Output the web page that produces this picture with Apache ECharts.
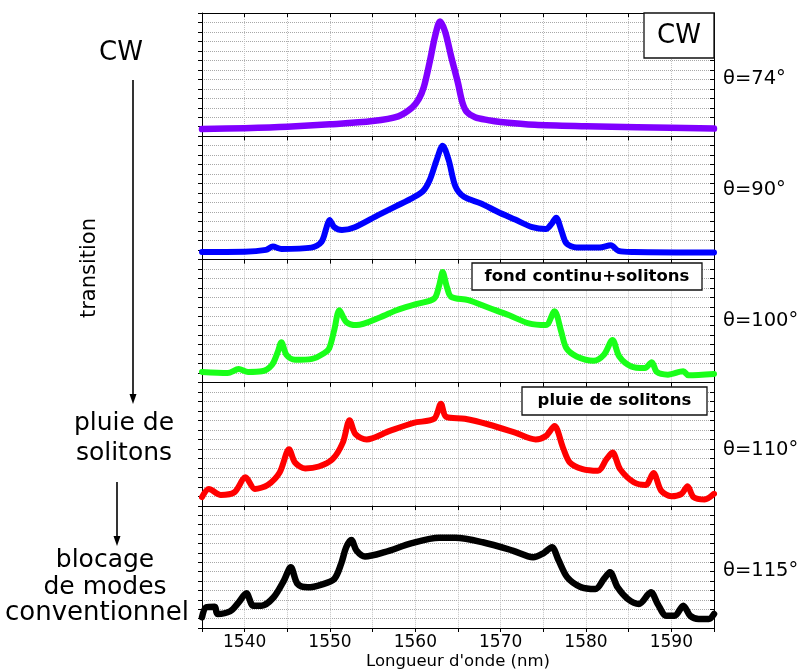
<!DOCTYPE html>
<html>
<head>
<meta charset="utf-8">
<script src="https://cdn.jsdelivr.net/npm/echarts@6/dist/echarts.min.js"></script>
<style>html,body{margin:0;padding:0;background:#fff}#c{width:799px;height:671px}</style>
</head>
<body>
<div id="c"></div>
<script>
// ---- Data (wavelength in nm, intensity in panel units 0..13) ----
const xTicks = [1540, 1550, 1560, 1570, 1580, 1590];
const angleLabels = ['θ=74°', 'θ=90°', 'θ=100°', 'θ=110°', 'θ=115°'];

const wl74 = [1535,1540,1545,1550,1555,1558,1559.6,1560.4,1561,1561.7,1562.3,1562.9,1563.5,1564.2,1565,1565.5,1566,1567,1568.5,1570,1574,1580,1586,1595];
const val74 = [0.75,0.85,1.0,1.25,1.6,2.1,3.0,3.9,5.2,7.9,10.5,12.1,11.0,8.4,5.6,3.6,2.6,2.0,1.7,1.5,1.2,1.05,0.95,0.8];

const wl90 = [1535,1540,1542.5,1543.3,1544.3,1547.8,1549,1549.6,1549.95,1550.5,1551.4,1552.9,1555.7,1557.7,1559.7,1560.9,1561.7,1562.5,1563.2,1563.9,1564.7,1565.7,1567.7,1569.7,1571.7,1573.7,1575.3,1576.0,1576.5,1577.1,1577.7,1578.9,1581.6,1582.9,1583.8,1585.6,1595];
const val90 = [0.78,0.8,1.0,1.35,1.1,1.24,1.85,3.4,4.15,3.4,3.1,3.4,4.7,5.6,6.5,7.2,8.4,10.5,12.0,10.5,7.7,6.6,5.9,5.0,4.2,3.4,3.2,3.8,4.4,3.1,1.7,1.25,1.25,1.5,0.9,0.78,0.72];

const wl100 = [1535,1538,1539.3,1540.4,1542,1543.2,1543.9,1544.3,1544.9,1545.9,1547.9,1549.3,1549.9,1550.5,1551.1,1551.9,1553.1,1555.9,1557.8,1560.2,1562.2,1562.8,1563.2,1563.7,1564.2,1566.2,1568.6,1571,1573.3,1575.3,1576.3,1577.1,1577.7,1578.9,1580.9,1582.1,1583.1,1583.9,1585.3,1586.9,1587.7,1588.3,1589.6,1591.4,1592,1595];
const val100 = [1.12,1.0,1.43,1.12,1.19,1.88,3.28,4.26,2.93,2.4,2.5,3.1,3.6,5.55,7.64,6.4,6.07,6.9,7.64,8.3,8.86,10.26,11.66,10.08,9.04,8.7,7.9,7.1,6.25,6.07,7.54,5.37,3.63,2.76,2.3,2.93,4.5,2.76,1.71,1.54,2.16,1.12,0.84,1.19,0.77,0.9];

const wl110 = [1535,1535.8,1537.2,1538.8,1540.1,1541.2,1542.7,1544.1,1545.2,1545.9,1547.1,1548.7,1550.3,1551.5,1552.3,1553,1554.3,1557,1559.8,1562.2,1563,1563.6,1565.8,1568.6,1571.7,1574.1,1575.3,1576.3,1577.3,1578.1,1579.6,1581.4,1582.4,1583.1,1584,1585.6,1587,1587.9,1588.8,1590,1591.2,1591.9,1592.6,1593.9,1595];
const val110 = [0.91,1.78,1.15,1.43,3.0,1.78,2.2,3.52,5.97,4.57,3.94,4.15,4.92,6.67,9.04,7.54,7.0,7.9,8.76,9.18,10.78,9.39,9.18,8.58,7.71,7.0,7.36,8.41,6.14,4.57,3.87,3.7,4.92,5.62,3.87,2.48,2.2,3.46,1.6,1.01,1.26,2.06,0.91,0.66,1.26];

const wl115 = [1535,1535.5,1536.5,1536.8,1538.3,1539.3,1540.2,1541,1542,1543.4,1544.6,1545.4,1546.2,1547.4,1549,1550.5,1551.3,1551.9,1552.5,1553.1,1554.1,1556.4,1559.6,1562.8,1564.7,1567.9,1571.4,1573.8,1575,1576,1576.8,1577.8,1579.3,1581.1,1582.1,1582.8,1583.7,1584.9,1586.2,1587.6,1588.4,1589.4,1590.4,1591.4,1592.2,1593.2,1594.4,1595];
const val115 = [1.14,2.2,2.27,1.49,1.78,2.73,3.69,2.38,2.38,3.27,5.04,6.46,4.69,4.33,4.62,5.22,6.82,8.59,9.37,8.24,7.6,8.06,9.02,9.59,9.59,9.12,8.24,7.53,7.95,8.59,7.17,5.4,4.4,4.15,5.22,5.93,4.33,3.09,2.56,3.8,2.56,1.31,1.31,2.38,1.31,0.96,0.96,1.49];

// ---- Layout ----
const FONT = '"DejaVu Sans", "Liberation Sans", Arial, sans-serif';
const panels = [
  {wl: wl74, v: val74, color: '#8000ff', w: 6.5},
  {wl: wl90, v: val90, color: '#0000ff', w: 6},
  {wl: wl100, v: val100, color: '#19ff19', w: 6},
  {wl: wl110, v: val110, color: '#ff0000', w: 6},
  {wl: wl115, v: val115, color: '#000000', w: 6.5}
];
const tops = [13, 136.2, 259.4, 382.6, 505.8];
const H = 123.2;
const labelY = [79, 190, 321, 450, 571];

const grid = [], xAxis = [], yAxis = [], series = [];
panels.forEach((p, i) => {
  grid.push({left: 202, width: 512, top: tops[i], height: H, containLabel: false});
  xAxis.push({
    gridIndex: i, type: 'value', min: 1535, max: 1595, interval: 5, position: 'bottom',
    axisLine: {show: true, onZero: false, lineStyle: {color: '#000', width: 1}},
    axisTick: {show: true, inside: false, length: 4, lineStyle: {color: '#000'}},
    axisLabel: {show: i === 4, margin: 6, fontFamily: FONT, fontSize: 17, color: '#000',
      formatter: v => xTicks.indexOf(v) >= 0 ? String(v) : ''},
    splitLine: {show: true, lineStyle: {color: '#c4c4c4', type: 'dotted', width: 1}},
    name: i === 4 ? "Longueur d'onde (nm)" : '', nameLocation: 'middle', nameGap: 25,
    nameTextStyle: {fontFamily: FONT, fontSize: 16.5, color: '#000'}
  });
  xAxis.push({
    gridIndex: i, type: 'value', min: 1535, max: 1595, interval: 5, position: 'top',
    axisLine: {show: true, onZero: false, lineStyle: {color: '#000', width: 1}},
    axisTick: {show: true, inside: true, length: 4, lineStyle: {color: '#000'}},
    axisLabel: {show: false}, splitLine: {show: false}
  });
  yAxis.push({
    gridIndex: i, type: 'value', min: 0, max: 13, interval: 1, position: 'left',
    axisLine: {show: true, onZero: false, lineStyle: {color: '#000', width: 1}},
    axisTick: {show: true, inside: false, length: 4, lineStyle: {color: '#000'}},
    axisLabel: {show: false},
    splitLine: {show: true, lineStyle: {color: '#a8a8a8', type: 'dotted', width: 1}}
  });
  yAxis.push({
    gridIndex: i, type: 'value', min: 0, max: 13, interval: 1, position: 'right',
    axisLine: {show: true, onZero: false, lineStyle: {color: '#000', width: 1}},
    axisTick: {show: true, inside: true, length: 4, lineStyle: {color: '#000'}},
    axisLabel: {show: false}, splitLine: {show: false}
  });
  series.push({
    type: 'line', xAxisIndex: i * 2, yAxisIndex: i * 2,
    data: p.wl.map((x, k) => [x, p.v[k]]),
    showSymbol: false, smooth: 0.3, clip: true, silent: true,
    lineStyle: {color: p.color, width: p.w, join: 'round', cap: 'round'},
    z: 3
  });
});

const graphic = [];
function txt(text, x, y, size, opts) {
  opts = opts || {};
  graphic.push(Object.assign({
    type: 'text', x: x, y: y, z: 110, rotation: opts.rotation || 0,
    style: {text: text, align: opts.align || 'center', verticalAlign: 'middle',
      fontFamily: FONT, fontSize: size, fontWeight: opts.bold ? 'bold' : 'normal', fill: '#000'}
  }));
}
function box(x, y, w, h) {
  graphic.push({type: 'rect', z: 100, shape: {x: x, y: y, width: w, height: h},
    style: {fill: '#fff', stroke: '#111', lineWidth: 1.3}});
}
function arrow(x, y1, y2) {
  graphic.push({type: 'line', z: 100, shape: {x1: x, y1: y1, x2: x, y2: y2 - 6},
    style: {stroke: '#000', lineWidth: 1.6}});
  graphic.push({type: 'polygon', z: 100, shape: {points: [[x - 3.5, y2 - 10], [x + 3.5, y2 - 10], [x, y2]]},
    style: {fill: '#000'}});
}

// angle labels on the right
angleLabels.forEach((t, i) => txt(t, 723, labelY[i], 19.5, {align: 'left'}));

// inset boxes
box(644, 13, 70, 45); txt('CW', 679, 36, 26);
box(472, 263, 230, 27); txt('fond continu+solitons', 587, 277, 16.5, {bold: true});
box(522, 387, 185, 28); txt('pluie de solitons', 614.5, 401, 16.5, {bold: true});

// left annotations
txt('CW', 121, 53, 26);
arrow(133, 80, 404);
txt('transition', 90, 268, 21, {rotation: Math.PI / 2});
txt('pluie de', 124, 423, 25);
txt('solitons', 124, 453, 25);
arrow(117, 482, 546);
txt('blocage', 105, 560, 25);
txt('de modes', 105, 587, 25);
txt('conventionnel', 97, 613, 26);

const chart = echarts.init(document.getElementById('c'), null, {renderer: 'canvas'});
chart.setOption({
  animation: false,
  backgroundColor: '#fff',
  grid: grid, xAxis: xAxis, yAxis: yAxis, series: series, graphic: graphic
});
</script>
</body>
</html>
